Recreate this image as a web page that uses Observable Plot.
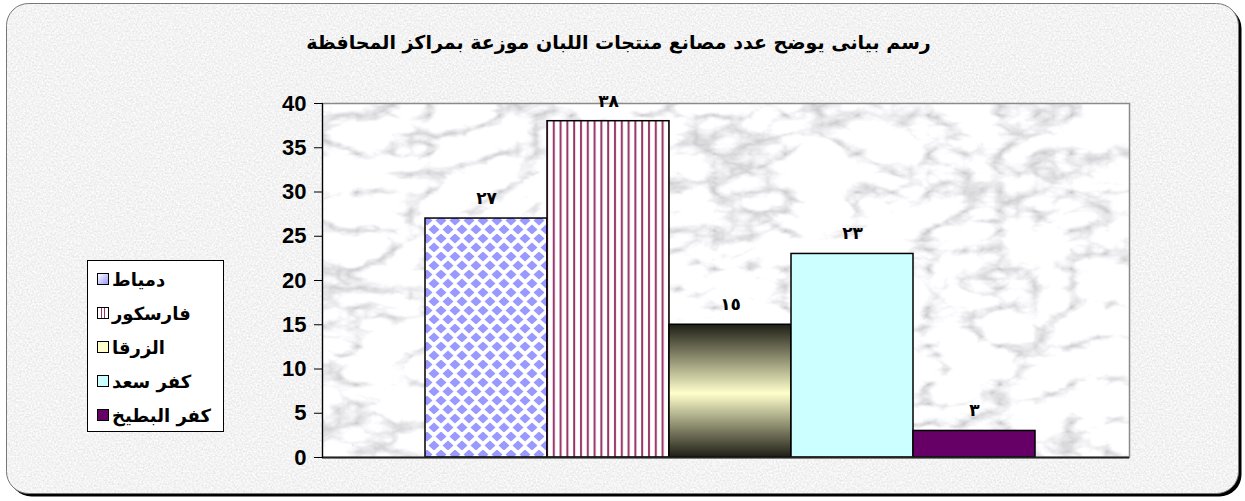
<!DOCTYPE html>
<html>
<head>
<meta charset="utf-8">
<script src="https://cdn.jsdelivr.net/npm/d3@7"></script>
<script src="https://cdn.jsdelivr.net/npm/@observablehq/plot@0.6"></script>
<style>
  html, body { margin: 0; padding: 0; background: #ffffff; }
  #wrap { position: relative; width: 1245px; height: 501px; overflow: hidden; }
  #bg { position: absolute; left: 0; top: 0; }
  #chart { position: absolute; left: 0; top: 0; }
  #title { position: absolute; left: 0; width: 1237px; top: 31px; text-align: center;
           font: bold 19px "DejaVu Sans", "Liberation Sans", sans-serif; direction: rtl; color: #000; }
  #legend { position: absolute; left: 87px; top: 260px; width: 137px; height: 172px;
            background: #fff; border: 1px solid #000; box-sizing: border-box; padding-top: 1px; }
  .item { display: flex; align-items: center; height: 34px; padding-left: 9px;
          font: bold 18px "DejaVu Sans", "Liberation Sans", sans-serif; color: #000; }
  .sw { width: 10px; height: 10px; border: 1px solid #000; margin-right: 3px; flex: none; }
  .item span { direction: rtl; }
</style>
</head>
<body>
<div id="wrap">
  <svg id="bg" width="1245" height="501">
    <defs>
      <filter id="fNoise" x="0" y="0" width="1" height="1">
        <feTurbulence type="fractalNoise" baseFrequency="0.55" numOctaves="2" seed="7"/>
        <feColorMatrix type="matrix" values="0.35 0 0 0 0.72  0.35 0 0 0 0.72  0.35 0 0 0 0.72  0 0 0 0 1"/>
      </filter>
      <clipPath id="cFrame"><rect x="6.5" y="3.5" width="1232" height="490" rx="22"/></clipPath>
    </defs>
    <rect x="9.5" y="6.5" width="1232" height="490" rx="22" fill="#000"/>
    <g clip-path="url(#cFrame)">
      <rect x="0" y="0" width="1245" height="501" filter="url(#fNoise)"/>
    </g>
    <rect x="6.5" y="3.5" width="1232" height="490" rx="22" fill="none" stroke="#777" stroke-width="1"/>
  </svg>
  <div id="chart"></div>
  <div id="title">رسم بيانى يوضح عدد مصانع منتجات اللبان موزعة بمراكز المحافظة</div>
  <div id="legend"></div>
</div>
<script>
// ---- data ----
const categories = ["دمياط", "فارسكور", "الزرقا", "كفر سعد", "كفر البطيخ"];
const values = [27, 38, 15, 23, 3];
const valueLabels = ["٢٧", "٣٨", "١٥", "٢٣", "٣"];
const yTicks = [0, 5, 10, 15, 20, 25, 30, 35, 40];
const barFills = ["url(#pDiamond)", "url(#pStripe)", "url(#gZarqa)", "#ccffff", "#660066"];
const swatchCss = [
  "linear-gradient(135deg,#ffffff 0%,#9999ff 100%)",
  "linear-gradient(90deg,#fff 0 30%,#993366 30% 42%,#fff 42% 62%,#993366 62% 74%,#fff 74%)",
  "#ffffcc",
  "#ccffff",
  "#660066"
];

const data = categories.map((c, i) => ({cat: c, value: values[i], label: valueLabels[i], fill: barFills[i]}));

const chart = Plot.plot({
  width: 1245,
  height: 501,
  marginLeft: 322,
  marginRight: 116,
  marginTop: 103,
  marginBottom: 44,
  style: {background: "transparent", fontFamily: "'Liberation Sans', Arial, sans-serif"},
  x: {domain: categories, range: [423, 1037], padding: 0, axis: null},
  y: {domain: [0, 40], axis: null},
  color: {type: "identity"},
  marks: [
    Plot.frame({fill: "url(#marble)", stroke: "#8a8a8a", strokeWidth: 1.5}),
    Plot.barY(data, {x: "cat", y: "value", fill: "fill", stroke: "#000", strokeWidth: 1.5}),
    Plot.ruleY([0], {stroke: "#222", strokeWidth: 2}),
    Plot.frame({anchor: "left", stroke: "#000", strokeWidth: 1.2}),
    Plot.axisY(yTicks, {tickSize: 8, tickPadding: 8, fontSize: 22, fontWeight: "bold", fill: "#000", stroke: "#000", label: null}),
    Plot.text(data, {x: "cat", y: "value", text: "label", dy: -20, fontSize: 17, fontWeight: "bold",
      fontFamily: "'DejaVu Sans', sans-serif", fill: "#000"})
  ]
});

// spaced digits like the original labels
d3.select(chart).selectAll("text").filter(function() { return /[٠-٩]/.test(this.textContent); })
  .style("letter-spacing", "4px");

// pattern / gradient definitions used by the bars and plot background
const defs = d3.select(chart).insert("defs", ":first-child");
const fm = defs.append("filter").attr("id", "fMarble").attr("x", 0).attr("y", 0).attr("width", 1).attr("height", 1);
fm.append("feTurbulence").attr("type", "turbulence").attr("baseFrequency", "0.014 0.026").attr("numOctaves", 5).attr("seed", 11);
fm.append("feColorMatrix").attr("type", "matrix")
  .attr("values", "1.5 0 0 0 0.56  1.5 0 0 0 0.56  1.5 0 0 0 0.58  0 0 0 0 1");
const pm = defs.append("pattern").attr("id", "marble").attr("patternUnits", "userSpaceOnUse")
  .attr("width", 1245).attr("height", 501);
pm.append("rect").attr("width", 1245).attr("height", 501).attr("filter", "url(#fMarble)");

const pd = defs.append("pattern").attr("id", "pDiamond").attr("patternUnits", "userSpaceOnUse")
  .attr("width", 14).attr("height", 18);
pd.append("rect").attr("width", 14).attr("height", 18).attr("fill", "#fff");
pd.append("path").attr("fill", "#9999ff")
  .attr("d", "M7,-0.5 L12.5,4.5 L7,9.5 L1.5,4.5Z M0,8.5 L5.5,13.5 L0,18.5 L-5.5,13.5Z M14,8.5 L19.5,13.5 L14,18.5 L8.5,13.5Z");

const ps = defs.append("pattern").attr("id", "pStripe").attr("patternUnits", "userSpaceOnUse")
  .attr("width", 6.8).attr("height", 10);
ps.append("rect").attr("width", 6.8).attr("height", 10).attr("fill", "#fff");
ps.append("rect").attr("x", 2).attr("width", 2).attr("height", 10).attr("fill", "#993366");

const gz = defs.append("linearGradient").attr("id", "gZarqa").attr("x1", 0).attr("y1", 0).attr("x2", 0).attr("y2", 1);
gz.append("stop").attr("offset", "0%").attr("stop-color", "#1e1e16");
gz.append("stop").attr("offset", "52%").attr("stop-color", "#ffffcc");
gz.append("stop").attr("offset", "100%").attr("stop-color", "#1e1e16");

document.getElementById("chart").appendChild(chart);

// legend
const legend = d3.select("#legend");
categories.forEach((c, i) => {
  const it = legend.append("div").attr("class", "item");
  it.append("div").attr("class", "sw").style("background", swatchCss[i]);
  it.append("span").text(c);
});
</script>
</body>
</html>
